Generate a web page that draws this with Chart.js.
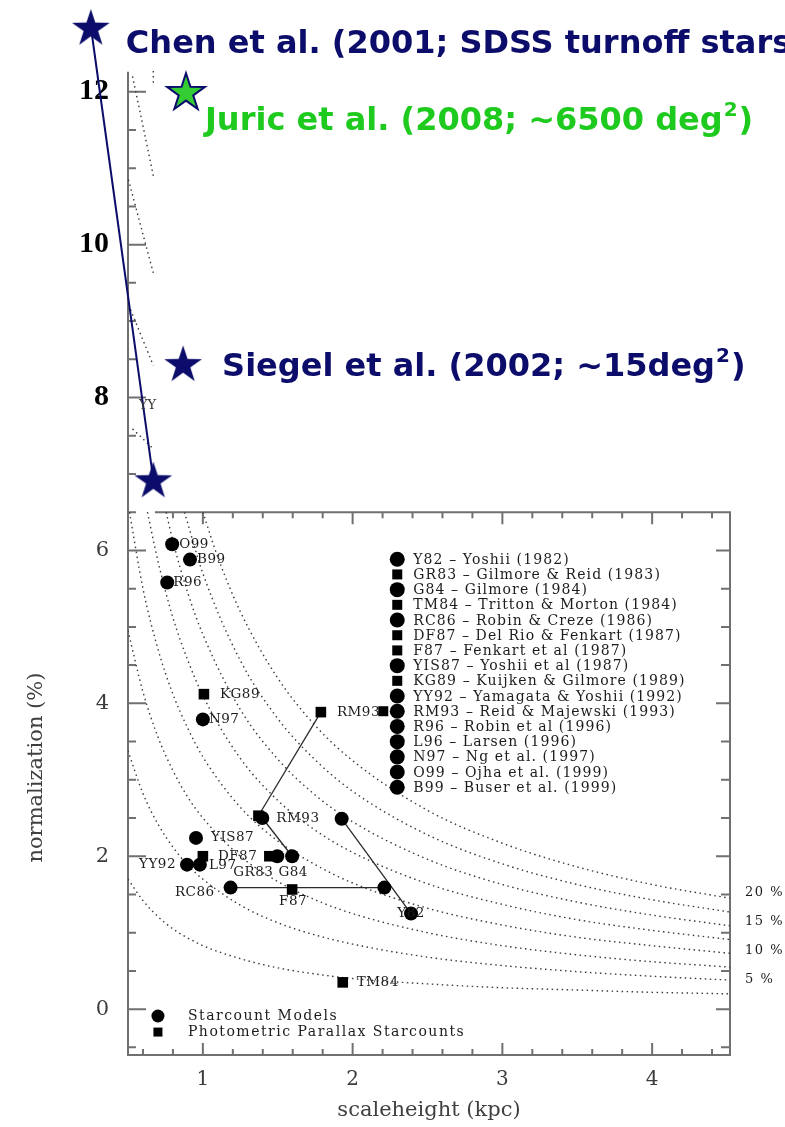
<!DOCTYPE html>
<html>
<head>
<meta charset="utf-8">
<title>Thick disk normalization vs scaleheight</title>
<script src="https://cdn.jsdelivr.net/npm/chart.js@4"></script>
<style>
  html, body { margin: 0; padding: 0; background: #fff; }
</style>
</head>
<body>
<canvas id="chart" width="785" height="1127"></canvas>
<script>
// starcount models (circles)
const modelNames = ['O99', 'B99', 'R96', 'N97', 'RM93', 'YIS87', 'YY92', 'L97', 'RC86', '', 'G84', '', '', 'Y82'];
const modelHeight = [0.795, 0.914, 0.762, 1.0, 1.397, 0.954, 0.894, 0.98, 1.185, 1.497, 1.596, 2.212, 1.927, 2.39];
const modelNorm = [6.08, 5.88, 5.58, 3.79, 2.50, 2.24, 1.89, 1.89, 1.59, 2.0, 2.0, 1.59, 2.49, 1.25];

// photometric parallax starcounts (squares)
const parallaxNames = ['KG89', 'RM93', '', 'DF87', 'GR83', 'F87', 'TM84'];
const parallaxHeight = [1.007, 1.788, 1.371, 1.0, 1.444, 1.596, 1.934];
const parallaxNorm = [4.12, 3.885, 2.53, 2.0, 2.0, 1.565, 0.35];

// results joined by a solid line: [h1, n1, h2, n2]
const links = [
  [1.788, 3.885, 1.371, 2.53],
  [1.397, 2.50, 1.596, 2.0],
  [1.185, 1.59, 2.212, 1.59],
  [1.927, 2.49, 2.39, 1.25]
];

// dotted curves as [scaleheight, normalization]
const curve2p5 = [[0.5,1.70],[0.6,1.42],[0.7,1.21],[0.8,1.05],[0.9,0.93],[1.0,0.83],[1.25,0.66],[1.5,0.54],[1.75,0.46],[2.0,0.40],[2.5,0.33],[3.0,0.28],[3.5,0.25],[4.0,0.22],[4.52,0.20]];
const curve5 = [[0.5,3.38],[0.6,2.82],[0.7,2.42],[0.8,2.12],[0.9,1.88],[1.0,1.70],[1.25,1.36],[1.5,1.13],[1.75,0.97],[2.0,0.85],[2.5,0.68],[3.0,0.57],[3.5,0.49],[4.0,0.43],[4.52,0.38]];
const curve7p5 = [[0.5,4.95],[0.6,4.15],[0.7,3.56],[0.8,3.12],[0.9,2.77],[1.0,2.50],[1.25,2.0],[1.5,1.67],[1.75,1.43],[2.0,1.25],[2.5,1.0],[3.0,0.83],[3.5,0.71],[4.0,0.62],[4.52,0.55]];
const curve10 = [[0.51,6.5],[0.6,5.5],[0.7,4.71],[0.8,4.12],[0.9,3.67],[1.0,3.3],[1.25,2.64],[1.5,2.2],[1.75,1.89],[2.0,1.65],[2.5,1.32],[3.0,1.1],[3.5,0.94],[4.0,0.83],[4.52,0.73]];
const curve12p5 = [[0.63,6.5],[0.7,5.86],[0.8,5.12],[0.9,4.56],[1.0,4.1],[1.25,3.28],[1.5,2.73],[1.75,2.34],[2.0,2.05],[2.5,1.64],[3.0,1.37],[3.5,1.17],[4.0,1.03],[4.52,0.91]];
const curve15 = [[0.755,6.5],[0.8,6.12],[0.9,5.44],[1.0,4.9],[1.25,3.92],[1.5,3.27],[1.75,2.8],[2.0,2.45],[2.5,1.96],[3.0,1.63],[3.5,1.4],[4.0,1.23],[4.52,1.09]];
const curve17p5 = [[0.877,6.5],[1.0,5.7],[1.25,4.56],[1.5,3.8],[1.75,3.26],[2.0,2.85],[2.5,2.28],[3.0,1.9],[3.5,1.63],[4.0,1.43],[4.52,1.27]];
const curve20 = [[1.0,6.5],[1.1,5.91],[1.25,5.2],[1.5,4.33],[1.75,3.71],[2.0,3.25],[2.5,2.6],[3.0,2.17],[3.5,1.86],[4.0,1.63],[4.52,1.45]];

// bits of dotted curve left over in the pasted strip above the frame
const strip1 = [[0.530,12.20],[0.596,11.59],[0.669,10.90]];
const strip2 = [[0.669,12.27],[0.669,12.08]];
const strip3 = [[0.503,10.85],[0.583,10.26],[0.669,9.63]];
const strip4 = [[0.517,9.15],[0.590,8.80],[0.669,8.42]];
const strip5 = [[0.530,7.59],[0.669,7.33]];

const pctLabels = ['20 %', '15 %', '10 %', '5 %'];
const pctNorm = [1.52, 1.14, 0.77, 0.39];

// newer measurements (stars)
const chenHeight = [0.252, 0.669];
const chenNorm = [12.85, 6.93];
const juricHeight = [0.887];
const juricNorm = [12.01];
const siegelHeight = [0.868];
const siegelNorm = [8.45];
const starTexts = ['Chen et al. (2001; SDSS turnoff stars)', 'Juric et al. (2008; ~6500 deg^2)', 'Siegel et al. (2002; ~15deg^2)'];

const legendCodes = ['Y82', 'GR83', 'G84', 'TM84', 'RC86', 'DF87', 'F87', 'YIS87', 'KG89', 'YY92', 'RM93', 'R96', 'L96', 'N97', 'O99', 'B99'];
const legendRefs = ['Yoshii (1982)', 'Gilmore & Reid (1983)', 'Gilmore (1984)', 'Tritton & Morton (1984)', 'Robin & Creze (1986)',
  'Del Rio & Fenkart (1987)', 'Fenkart et al (1987)', 'Yoshii et al (1987)', 'Kuijken & Gilmore (1989)', 'Yamagata & Yoshii (1992)',
  'Reid & Majewski (1993)', 'Robin et al (1996)', 'Larsen (1996)', 'Ng et al. (1997)', 'Ojha et al. (1999)', 'Buser et al. (1999)'];
const legendKinds = ['c', 's', 'c', 's', 'c', 's', 's', 'c', 's', 'c', 'b', 'c', 'c', 'c', 'c', 'c'];

const SERIF = '"DejaVu Serif", "Liberation Serif", serif';
const SANS = '"DejaVu Sans", Verdana, sans-serif';
const INK = '#1c1c1c';
const AXIS = '#707070';
const NAVY = '#0c0c6a';
const GREEN = '#1fca1f';

Chart.defaults.font.family = SERIF;

// label offsets in pixels: [dx, dy, align]
const placeModel = {
  O99: [7, 0, 'left'], B99: [7, 0, 'left'], R96: [6, 0, 'left'], N97: [6, 0, 'left'],
  RM93: [14, 0, 'left'], YIS87: [15, 0, 'left'], YY92: [-11, 0, 'right'], L97: [9, 1, 'left'],
  RC86: [-16, 5, 'right'], G84: [1, 16, 'center'], Y82: [0, 0, 'center']
};
const placeParallax = {
  KG89: [16, 0, 'left'], RM93: [16, 0, 'left'], DF87: [15, 0, 'left'],
  GR83: [-16, 16, 'center'], F87: [1, 12, 'center'], TM84: [14, 0, 'left']
};
const placeStar = [[35, 18], [19, 31], [39, 5]];

function starCanvas(fill, stroke) {
  const c = document.createElement('canvas');
  c.width = 44; c.height = 44;
  const g = c.getContext('2d');
  g.beginPath();
  for (let i = 0; i < 10; i++) {
    const r = i % 2 ? 7.6 : 19.8;
    const a = -Math.PI / 2 + i * Math.PI / 5;
    g.lineTo(22 + r * Math.cos(a), 24 + r * Math.sin(a));
  }
  g.closePath();
  g.fillStyle = fill;
  g.fill();
  if (stroke) {
    g.strokeStyle = stroke;
    g.lineWidth = 2;
    g.stroke();
  }
  return c;
}
const navyStar = starCanvas(NAVY);
const greenStar = starCanvas('#33cc33', NAVY);

const toPts = (xs, ys) => xs.map((v, i) => ({ x: v, y: ys[i] }));
const pairPts = arr => arr.map(p => ({ x: p[0], y: p[1] }));

const dotted = data => ({
  type: 'line', data: pairPts(data), showLine: true, pointRadius: 0,
  borderColor: '#3a3a3a', borderWidth: 1.4, borderDash: [1.5, 3.5],
  cubicInterpolationMode: 'monotone', order: 4
});

const datasets = [];
[curve2p5, curve5, curve7p5, curve10, curve12p5, curve15, curve17p5, curve20,
 strip1, strip2, strip3, strip4, strip5].forEach(c => datasets.push(dotted(c)));

links.forEach(l => datasets.push({
  type: 'line', data: [{ x: l[0], y: l[1] }, { x: l[2], y: l[3] }], showLine: true,
  pointRadius: 0, borderColor: '#2a2a2a', borderWidth: 1.3, order: 3
}));

datasets.push({
  label: 'Starcount Models', data: toPts(modelHeight, modelNorm), names: modelNames, place: placeModel,
  pointStyle: 'circle', pointRadius: 7, backgroundColor: '#000', borderColor: '#000', borderWidth: 0, order: 2
});
datasets.push({
  label: 'Photometric Parallax Starcounts', data: toPts(parallaxHeight, parallaxNorm), names: parallaxNames, place: placeParallax,
  pointStyle: 'rect', pointRadius: 7.5, backgroundColor: '#000', borderColor: '#000', borderWidth: 0, order: 1
});

datasets.push({
  type: 'line', data: toPts(chenHeight, chenNorm), showLine: true, clip: false,
  borderColor: NAVY, borderWidth: 2, pointStyle: navyStar, pointRadius: 10,
  starText: 0, textColor: NAVY, order: 0
});
datasets.push({
  data: toPts(juricHeight, juricNorm), clip: false, pointStyle: greenStar, pointRadius: 10,
  starText: 1, textColor: GREEN, order: 0
});
datasets.push({
  data: toPts(siegelHeight, siegelNorm), clip: false, pointStyle: navyStar, pointRadius: 10,
  starText: 2, textColor: NAVY, order: 0
});

function drawRich(ctx, text, x, y, size) {
  const parts = text.split('^');
  let cx = x;
  ctx.textAlign = 'left';
  ctx.textBaseline = 'middle';
  parts.forEach((p, i) => {
    if (i > 0) {
      const sup = p[0];
      ctx.font = `bold ${Math.round(size * 0.62)}px ${SANS}`;
      ctx.fillText(sup, cx + 1, y - size * 0.36);
      cx += ctx.measureText(sup).width + 2;
      p = p.slice(1);
    }
    ctx.font = `bold ${size}px ${SANS}`;
    ctx.fillText(p, cx, y);
    cx += ctx.measureText(p).width;
  });
}

const isWhole = v => Math.abs(v - Math.round(v)) < 1e-6;

const framePlugin = {
  id: 'frame',
  beforeDatasetsDraw(chart) {
    const { ctx, chartArea: a, scales: { x, y } } = chart;
    const topY = y.getPixelForValue(6.5);
    ctx.save();
    ctx.strokeStyle = AXIS;
    ctx.lineWidth = 2;
    ctx.beginPath();
    ctx.moveTo(a.left, y.getPixelForValue(12.26));
    ctx.lineTo(a.left, a.bottom);
    ctx.lineTo(a.right, a.bottom);
    ctx.lineTo(a.right, topY);
    ctx.lineTo(x.getPixelForValue(0.68), topY);
    // y ticks, pointing inwards
    for (let v = -0.5; v <= 12.01; v += 0.5) {
      const py = y.getPixelForValue(v);
      const len = isWhole(v / 2) ? 18 : 8;
      ctx.moveTo(a.left, py); ctx.lineTo(a.left + len, py);
      if (v <= 6.01) { ctx.moveTo(a.right, py); ctx.lineTo(a.right - (isWhole(v / 2) ? 14 : 9), py); }
    }
    // x ticks on bottom and top edges
    for (let h = 0.6; h <= 4.41; h += 0.2) {
      const px = x.getPixelForValue(h);
      const len = isWhole(h) ? 12 : 6;
      ctx.moveTo(px, a.bottom); ctx.lineTo(px, a.bottom - len);
      if (h >= 0.79) { ctx.moveTo(px, topY); ctx.lineTo(px, topY + len); }
    }
    ctx.stroke();
    ctx.restore();
  },
  afterDatasetsDraw(chart) {
    const { ctx, chartArea: a, scales: { x, y } } = chart;
    ctx.save();
    chart.data.datasets.forEach((ds, i) => {
      const meta = chart.getDatasetMeta(i);
      // point labels
      if (ds.names) {
        ctx.fillStyle = INK;
        ctx.font = `13.5px ${SERIF}`;
        ctx.letterSpacing = '0.5px';
        ctx.textBaseline = 'middle';
        meta.data.forEach((el, j) => {
          const name = ds.names[j];
          const pl = ds.place[name];
          if (!name || !pl) return;
          ctx.textAlign = pl[2];
          ctx.fillText(name, el.x + pl[0], el.y + pl[1]);
        });
        ctx.letterSpacing = '0px';
      }
      if (ds.starText !== undefined) {
        // stars that sit left of the plot area are skipped by the point element, draw them here
        meta.data.forEach(el => {
          if (el.x < a.left - 5) {
            const img = ds.pointStyle;
            ctx.drawImage(img, el.x - img.width / 2, el.y - img.height / 2);
          }
        });
        const el = meta.data[0];
        const off = placeStar[ds.starText];
        ctx.fillStyle = ds.textColor;
        drawRich(ctx, starTexts[ds.starText], el.x + off[0], el.y + off[1], 32);
      }
    });

    // leftover label in the pasted strip
    ctx.fillStyle = '#333';
    ctx.font = `13px ${SERIF}`;
    ctx.textAlign = 'center';
    ctx.textBaseline = 'middle';
    ctx.fillText('YY', x.getPixelForValue(0.63), y.getPixelForValue(7.9));

    // reference list
    const mx = x.getPixelForValue(2.298);
    const row0 = y.getPixelForValue(5.885);
    ctx.font = `14px ${SERIF}`;
    ctx.letterSpacing = '1.1px';
    ctx.textAlign = 'left';
    legendCodes.forEach((code, i) => {
      const ry = row0 + i * 15.2;
      const kind = legendKinds[i];
      ctx.fillStyle = '#000';
      if (kind === 'c' || kind === 'b') {
        ctx.beginPath(); ctx.arc(mx, ry, 7.5, 0, Math.PI * 2); ctx.fill();
      }
      if (kind === 's') ctx.fillRect(mx - 5, ry - 5, 10, 10);
      if (kind === 'b') ctx.fillRect(mx - 19, ry - 5, 10, 10);
      ctx.fillStyle = INK;
      ctx.fillText(`${code} \u2013 ${legendRefs[i]}`, mx + 16, ry + 1);
    });

    // symbol key, bottom left
    const kx = x.getPixelForValue(0.70);
    const k1 = y.getPixelForValue(-0.09);
    const k2 = y.getPixelForValue(-0.30);
    ctx.fillStyle = '#000';
    ctx.beginPath(); ctx.arc(kx, k1, 6.5, 0, Math.PI * 2); ctx.fill();
    ctx.fillRect(kx - 4.5, k2 - 4.5, 9, 9);
    ctx.fillStyle = INK;
    ctx.font = `14px ${SERIF}`;
    ctx.letterSpacing = '1.5px';
    ctx.fillText('Starcount Models', kx + 30, k1);
    ctx.fillText('Photometric Parallax Starcounts', kx + 30, k2);

    // curve levels on the right
    ctx.font = `13px ${SERIF}`;
    ctx.letterSpacing = '1.5px';
    pctLabels.forEach((t, i) => ctx.fillText(t, a.right + 15, y.getPixelForValue(pctNorm[i])));
    ctx.letterSpacing = '0px';

    // y axis title
    ctx.save();
    ctx.translate(37, y.getPixelForValue(3.16));
    ctx.rotate(-Math.PI / 2);
    ctx.textAlign = 'center';
    ctx.fillStyle = '#404040';
    ctx.font = `21px ${SERIF}`;
    ctx.fillText('normalization (%)', 0, 0);
    ctx.restore();
    ctx.restore();
  }
};

new Chart(document.getElementById('chart'), {
  type: 'scatter',
  data: { datasets },
  options: {
    responsive: false,
    animation: false,
    events: [],
    layout: { autoPadding: false, padding: { left: 0, right: 55, top: 0, bottom: 0 } },
    plugins: { legend: { display: false }, tooltip: { enabled: false } },
    scales: {
      x: {
        type: 'linear', min: 0.5, max: 4.52,
        grid: { display: false, drawTicks: false }, border: { display: false },
        ticks: { stepSize: 1, includeBounds: false, padding: 13, color: '#3c3c3c', font: { family: SERIF, size: 20 } },
        title: { display: true, text: 'scaleheight (kpc)', color: '#404040', font: { family: SERIF, size: 21 }, padding: { top: 0, bottom: 4 } },
        afterFit: s => { s.height = 72; s.paddingLeft = 0; s.paddingRight = 0; }
      },
      y: {
        type: 'linear', min: -0.6, max: 13.2,
        grid: { display: false, drawTicks: false }, border: { display: false },
        ticks: {
          stepSize: 2, includeBounds: false, padding: 19,
          color: c => (c.tick && c.tick.value >= 8 ? '#000' : '#3c3c3c'),
          font: c => (c.tick && c.tick.value >= 8
            ? { family: '"Liberation Serif", "Times New Roman", serif', size: 30, weight: 'bold' }
            : { family: SERIF, size: 21 })
        },
        afterFit: s => { s.width = 128; s.paddingTop = 0; s.paddingBottom = 0; }
      }
    }
  },
  plugins: [framePlugin]
});
</script>
</body>
</html>
